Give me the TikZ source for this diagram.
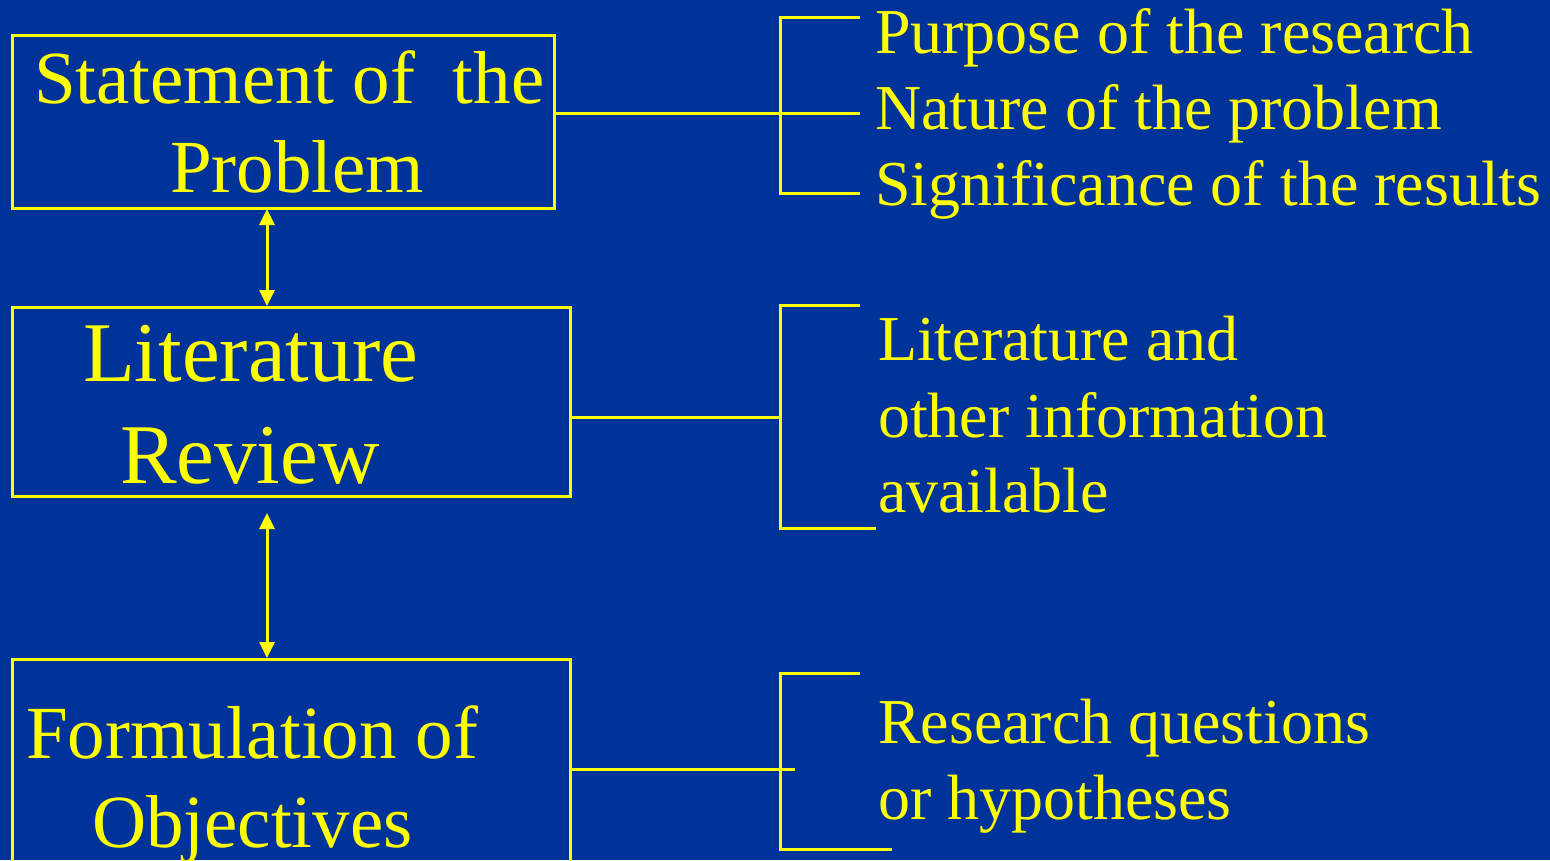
\documentclass[tikz,border=0pt]{standalone}
\usepackage{fontspec}
\setmainfont{Liberation Serif}
\usetikzlibrary{arrows.meta}
\definecolor{bgblue}{RGB}{0,51,153}
\definecolor{ylw}{RGB}{255,255,0}
\begin{document}
\begin{tikzpicture}[x=1pt,y=-1pt,
  ln/.style={draw=ylw,line width=3pt},
  box/.style={draw=ylw,line width=3pt,inner sep=0pt,outer sep=0pt},
  txt/.style={text=ylw,inner sep=0pt,outer sep=0pt,anchor=base west},
  bigtxt/.style={txt,font=\fontsize{75}{80}\selectfont},
  hugetxt/.style={txt,font=\fontsize{85}{90}\selectfont},
  smtxt/.style={txt,font=\fontsize{64}{70}\selectfont},
  dbl/.style={ln,{Triangle[length=16pt,width=15pt]}-{Triangle[length=16pt,width=15pt]}}]
\fill[bgblue] (0,0) rectangle (1550,860);
\useasboundingbox (0,0) rectangle (1550,860);
% boxes
\path[box] (12,35) rectangle (554,208);
\coordinate (b1e) at (554,113);
\path[box] (12,307) rectangle (570,496);
\coordinate (b2e) at (570,417);
\path[box] (12,659) rectangle (570,880);
\coordinate (b3e) at (570,769);
% box texts
\node[bigtxt] (t1a) at (34,103) {Statement of \ the};
\node[bigtxt] (t1b) at (170,192) {Problem};
\node[hugetxt] (t2a) at (83,381) {Literature};
\node[hugetxt] (t2b) at (120,483) {Review};
\node[bigtxt] (t3a) at (26,758) {Formulation of};
\node[bigtxt] (t3b) at (92,847) {Objectives};
% arrows
\coordinate (a1s) at (267,209);
\coordinate (a1e) at (267,306);
\coordinate (a2s) at (267,513);
\coordinate (a2e) at (267,658);
\draw[dbl] (a1s) -- (a1e);
\draw[dbl] (a2s) -- (a2e);
% bracket 1
\coordinate (k1t) at (780,17);
\coordinate (k1b) at (780,193);
\coordinate (k1te) at (860,17);
\coordinate (k1me) at (860,113);
\coordinate (k1be) at (860,193);
\draw[ln] (b1e) -- (k1me);
\draw[ln] (k1te) -- (k1t) -- (k1b) -- (k1be);
% bracket 2
\coordinate (k2t) at (780,305);
\coordinate (k2m) at (780,417);
\coordinate (k2b) at (780,528);
\coordinate (k2te) at (860,305);
\coordinate (k2be) at (876,528);
\draw[ln] (b2e) -- (k2m);
\draw[ln] (k2te) -- (k2t) -- (k2b) -- (k2be);
% bracket 3
\coordinate (k3t) at (780,673);
\coordinate (k3b) at (780,849);
\coordinate (k3te) at (860,673);
\coordinate (k3me) at (795,769);
\coordinate (k3be) at (892,849);
\draw[ln] (b3e) -- (k3me);
\draw[ln] (k3te) -- (k3t) -- (k3b) -- (k3be);
% right texts
\node[smtxt] (r1a) at (875,53) {Purpose of the research};
\node[smtxt] (r1b) at (875,129) {Nature of the problem};
\node[smtxt] (r1c) at (875,205) {Significance of the results};
\node[smtxt] (r2a) at (878,360) {Literature and};
\node[smtxt] (r2b) at (878,437) {other information};
\node[smtxt] (r2c) at (878,512) {available};
\node[smtxt] (r3a) at (878,743) {Research questions};
\node[smtxt] (r3b) at (878,819) {or hypotheses};
\end{tikzpicture}
\end{document}
